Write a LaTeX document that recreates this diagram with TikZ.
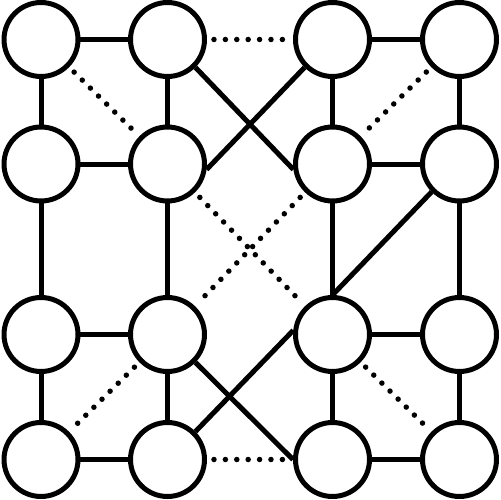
\documentclass[tikz,border=0pt]{standalone}
\usepackage{tikz}

\begin{document}
\begin{tikzpicture}[x=0.02cm, y=-0.02cm,
  ball/.style={draw, circle, line width=0.1cm, minimum size=1.48cm, inner sep=0pt},
  link/.style={line width=0.1cm},
  dots/.style={line width=0.11cm, line cap=round, dash pattern=on 0pt off 0.228cm, shorten <=0.14cm, shorten >=0.14cm}]
\useasboundingbox (0,0) rectangle (500,500);

\node[ball] (n11) at (41,39.5) {};
\node[ball] (n12) at (167.5,39.5) {};
\node[ball] (n13) at (332.5,39.5) {};
\node[ball] (n14) at (459.5,39.5) {};

\node[ball] (n21) at (41,164) {};
\node[ball] (n22) at (167.5,164) {};
\node[ball] (n23) at (332.5,164) {};
\node[ball] (n24) at (459.5,164) {};

\node[ball] (n31) at (41,334.5) {};
\node[ball] (n32) at (167.5,334.5) {};
\node[ball] (n33) at (332.5,334.5) {};
\node[ball] (n34) at (459.5,334.5) {};

\node[ball] (n41) at (41,459.5) {};
\node[ball] (n42) at (167.5,459.5) {};
\node[ball] (n43) at (332.5,459.5) {};
\node[ball] (n44) at (459.5,459.5) {};

% solid links
\draw[link] (n11) -- (n12);
\draw[link] (n11) -- (n21);
\draw[link] (n12) -- (n22);
\draw[link] (n21) -- (n22);

\draw[link] (n13) -- (n14);
\draw[link] (n13) -- (n23);
\draw[link] (n14) -- (n24);
\draw[link] (n23) -- (n24);

\draw[link] (n21) -- (n31);
\draw[link] (n22) -- (n32);
\draw[link] (n23) -- (n33);
\draw[link] (n24) -- (n34);

\draw[link] (n31) -- (n32);
\draw[link] (n31) -- (n41);
\draw[link] (n32) -- (n42);
\draw[link] (n41) -- (n42);

\draw[link] (n33) -- (n34);
\draw[link] (n33) -- (n43);
\draw[link] (n34) -- (n44);
\draw[link] (n43) -- (n44);

\draw[link] (n12.-45) -- (n23.188);
\draw[link] (n22.-8) -- (n13.225);
\draw[link] (n24.225) -- (n33.north);
\draw[link] (n42.45) -- (n33.174);
\draw[link] (n32.-45) -- (n43.west);

% dotted links
\draw[dots] (n12) -- (n13);
\draw[dots] (n42) -- (n43);
\draw[dots] (n11) -- (n22);
\draw[dots] (n14) -- (n23);
\draw[dots] (n22) -- (n33);
\draw[dots] (n23) -- (n32);
\draw[dots] (n32) -- (n41);
\draw[dots] (n33) -- (n44);
\end{tikzpicture}
\end{document}
